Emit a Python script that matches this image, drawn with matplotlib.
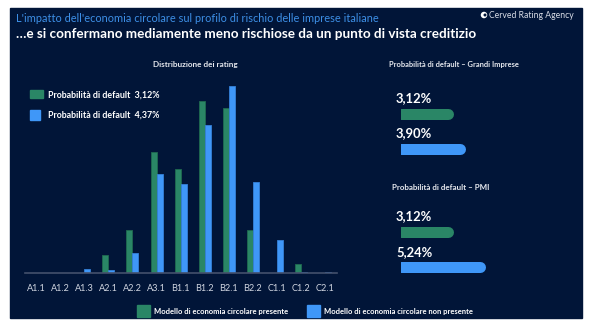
import matplotlib.pyplot as plt
from matplotlib.patches import Rectangle, Ellipse

# distribuzione dei rating (% imprese)
ratings = ["A1.1", "A1.2", "A1.3", "A2.1", "A2.2", "A3.1", "B1.1",
           "B1.2", "B2.1", "B2.2", "C1.1", "C1.2", "C2.1"]
circ_presente = [0, 0, 0, 2.6, 6.4, 17.9, 15.4, 25.5, 24.4, 6.4, 0, 1.3, 0]
circ_assente = [0, 0, 0.55, 0.4, 3.0, 14.6, 13.1, 22.0, 27.8, 13.5, 4.8, 0.15, 0.15]

pd_media = [3.12, 4.37]
pd_grandi = [3.12, 3.90]
pd_pmi = [3.12, 5.24]

serie_labels = ["Modello di economia circolare presente",
                "Modello di economia circolare non presente"]

W, H = 590, 333
BG = "#011538"
GREEN = "#2a8666"
BLUE = "#3f97f8"
FONT = "Lato"


def fx(x):
    return x / W


def fy(y):
    return 1 - y / H


def pct(v):
    return f"{v:.2f}".replace(".", ",") + "%"


fig = plt.figure(figsize=(W / 100, H / 100), dpi=100, facecolor="white")
fig.add_artist(Rectangle((fx(10), fy(318)), fx(572), (318 - 8) / H,
                         transform=fig.transFigure, color=BG, zorder=0))

# header
fig.text(fx(16), fy(18), "L'impatto dell'economia circolare sul profilo di rischio delle imprese italiane",
         color="#3d8fe6", fontsize=7.9, family=FONT, va="center")
fig.text(fx(16), fy(34), "…e si confermano mediamente meno rischiose da un punto di vista creditizio",
         color="white", fontsize=9.7, family=FONT, weight="bold", va="center")
fig.add_artist(Ellipse((fx(484), fy(15)), 6.5 / W, 6.5 / H, transform=fig.transFigure,
                       facecolor="white", edgecolor="none"))
fig.add_artist(Ellipse((fx(485), fy(15)), 3 / W, 3 / H, transform=fig.transFigure,
                       facecolor=BG, edgecolor="none"))
fig.text(fx(489), fy(15), "Cerved Rating Agency", color="#d8dce6", fontsize=6.2,
         family=FONT, va="center")

# bar chart
ax = fig.add_axes([fx(25), fy(272.7), 312 / W, 202 / H])
ax.set_facecolor("none")
x = list(range(len(ratings)))
ax.bar([i - 0.125 for i in x], circ_presente, width=0.25, color=GREEN,
       edgecolor="#1f6a50", linewidth=0.6)
ax.bar([i + 0.125 for i in x], circ_assente, width=0.25, color=BLUE,
       edgecolor="#3580d8", linewidth=0.6)
ax.set_xlim(-0.46, 12.49)
ax.set_ylim(0, 30)
for s in ["top", "left", "right"]:
    ax.spines[s].set_visible(False)
ax.spines["bottom"].set_color("#44506c")
ax.spines["bottom"].set_linewidth(1.2)
ax.set_yticks([])
ax.set_xticks(x)
ax.set_xticklabels(ratings, color="#d0d5e0", fontsize=6.6, family=FONT)
ax.tick_params(axis="x", length=0, pad=8)

fig.text(fx(195), fy(65), "Distribuzione dei rating", color="#e6e8ee", fontsize=5.9,
         family=FONT, weight="bold", ha="center", va="center")

# legenda in alto
fig.add_artist(Rectangle((fx(30), fy(98.5)), 12.5 / W, 8.5 / H,
                         transform=fig.transFigure, color=GREEN))
fig.add_artist(Rectangle((fx(30.5), fy(119.5)), 9 / W, 9.5 / H,
                         transform=fig.transFigure, color=BLUE))
for yy, v in zip([95.5, 115], pd_media):
    fig.text(fx(48), fy(yy), "Probabilità di default  " + pct(v), color="white",
             fontsize=6.4, family=FONT, weight="bold", va="center")

# legenda in basso
for x0, yy, col, lab in [(137, 305, GREEN, serie_labels[0]),
                         (307, 305, BLUE, serie_labels[1])]:
    fig.add_artist(Rectangle((fx(x0), fy(316.5)), 12.5 / W, 11.5 / H,
                             transform=fig.transFigure, color=col))
    fig.text(fx(x0 + 17), fy(311.5), lab, color="white", fontsize=5.5,
             family=FONT, weight="bold", va="center")

# pannello destro: probabilita' di default
ax2 = fig.add_axes([fx(400.5), 0, (580 - 400.5) / W, 1])
ax2.set_axis_off()
ax2.set_xlim(0, (580 - 400.5) / 15.2)
ax2.set_ylim(H, 0)

sezioni = [("Probabilità di default – Grandi Imprese", 65, -0.75, 5.4, pd_grandi, [98, 133], [113.5, 148.5]),
           ("Probabilità di default – PMI", 188, -0.55, 5.8, pd_pmi, [216, 252], [231.5, 266.5])]
for titolo, ty, tx, fs, vals, ly, by in sezioni:
    ax2.text(tx, ty, titolo, color="#e6e8ee", fontsize=fs, family=FONT,
             weight="bold", va="center")
    for v, yl, yb, col in zip(vals, ly, by, [GREEN, BLUE]):
        ax2.plot([0, v], [yb, yb], color=col, lw=11 * 0.72, solid_capstyle="round")
        ax2.text(-0.3, yl, pct(v), color="white", fontsize=9.4, family=FONT,
                 weight="bold", va="center")

fig.savefig("out.png", dpi=100, facecolor="white")
